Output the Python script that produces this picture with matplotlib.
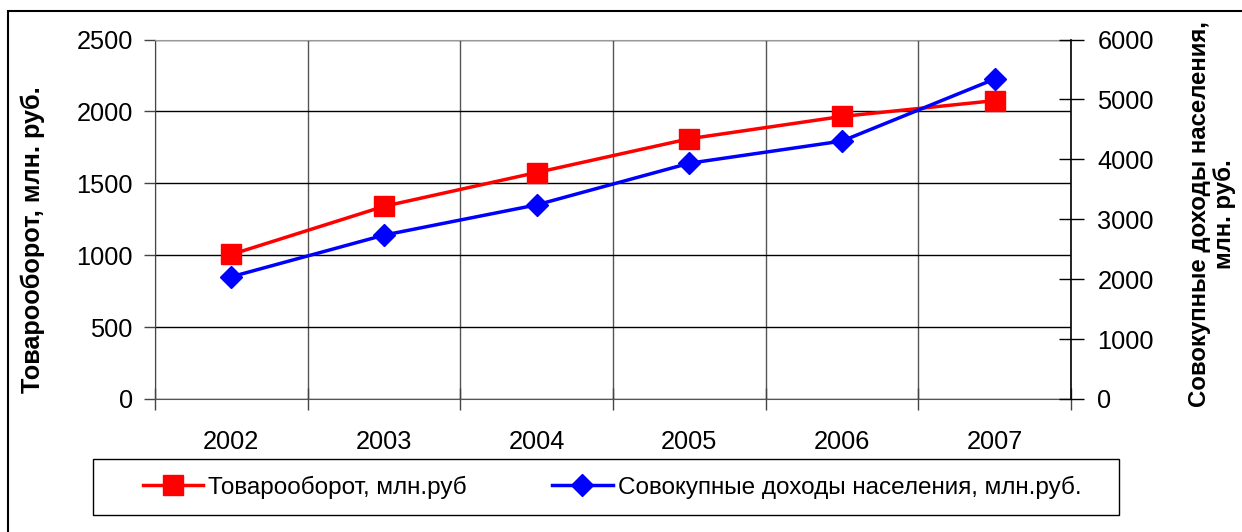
import matplotlib
matplotlib.use('Agg')
import matplotlib.pyplot as plt
from matplotlib.patches import Rectangle
from matplotlib.lines import Line2D

years = ['2002', '2003', '2004', '2005', '2006', '2007']
turnover = [1005, 1340, 1575, 1810, 1965, 2075]
income = [2040, 2735, 3240, 3935, 4305, 5340]
left_ticks = [0, 500, 1000, 1500, 2000, 2500]
right_ticks = [0, 1000, 2000, 3000, 4000, 5000, 6000]
label_turnover = 'Товарооборот, млн.руб'
label_income = 'Совокупные доходы населения, млн.руб.'

plt.rcParams['font.family'] = ['Liberation Sans', 'DejaVu Sans']
FS = 18.3

W, H = 1242, 532
fig = plt.figure(figsize=(W / 100, H / 100), dpi=100)
ax = fig.add_axes([155 / W, 1 - 399 / H, 916 / W, 359.5 / H])
ax2 = ax.twinx()

x = list(range(len(years)))
ax.plot(x, turnover, color='#ff0000', lw=2.5, marker='s', ms=14, zorder=3)
ax2.plot(x, income, color='#0000ff', lw=2.5, marker='D', ms=11, zorder=3)

ax.set_xlim(-0.5, len(years) - 0.5)
ax.set_ylim(0, 2500)
ax2.set_ylim(0, 6000)
ax.set_yticks(left_ticks)
ax2.set_yticks(right_ticks)
ax.set_xticks(x)
ax.set_xticklabels(years)
ax.set_xticks([i - 0.5 for i in range(len(years) + 1)], minor=True)

ax.grid(True, axis='y', which='major', color='black', lw=1)
ax.grid(True, axis='x', which='minor', color='#555555', lw=1)
ax.grid(False, axis='x', which='major')

ax.tick_params(axis='x', which='major', length=0, pad=22, labelsize=FS)
ax.tick_params(axis='x', which='minor', direction='inout', length=16, width=1, color='#444444')
ax.tick_params(axis='y', direction='out', length=8, width=1, pad=8, labelsize=FS, color='#444444')
ax2.tick_params(axis='y', direction='inout', length=18, width=1, pad=10, labelsize=FS, color='black')

ax.spines['top'].set_color('#999999')
ax.spines['left'].set_color('#444444')
ax.spines['bottom'].set_color('#555555')
ax.spines['right'].set_visible(False)
for s in ['top', 'left', 'bottom']:
    ax2.spines[s].set_visible(False)
ax2.spines['right'].set_color('black')
ax2.spines['right'].set_linewidth(1.2)

fig.text(33 / W, 1 - 240 / H, 'Товарооборот, млн. руб.', rotation=90,
         ha='center', va='center', fontsize=18.2, fontweight='bold')
fig.text(1212 / W, 1 - 214 / H, 'Совокупные доходы населения,\nмлн. руб.', rotation=90,
         ha='center', va='center', fontsize=17.3, fontweight='bold', linespacing=1.15,
         multialignment='center')

handles = [Line2D([], [], color='#ff0000', lw=2.5, marker='s', ms=14),
           Line2D([], [], color='#0000ff', lw=2.5, marker='D', ms=11)]
fig.legend(handles, [label_turnover, label_income], loc='center',
           bbox_to_anchor=(612 / W, 1 - 487 / H), ncol=2, frameon=False,
           fontsize=17.5, handlelength=2.5, handletextpad=0.2, columnspacing=3.5)

fig.patches.append(Rectangle((93 / W, 1 - 515 / H), 1026 / W, 56 / H,
                             transform=fig.transFigure, fill=False, ec='black', lw=1))
fig.patches.append(Rectangle((8 / W, -0.05), 1.1, 1.05 - 11 / H,
                             transform=fig.transFigure, fill=False, ec='black', lw=1.5))

fig.savefig('out.png', dpi=100)
